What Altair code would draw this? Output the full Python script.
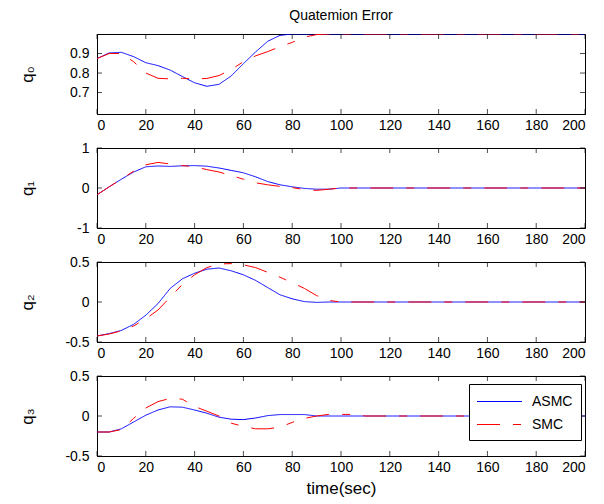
import altair as alt
import pandas as pd

T = [0, 5, 10, 15, 20, 25, 30, 35, 40, 45, 50, 55, 60, 65, 70, 75, 80, 85, 90, 95, 100, 105, 110, 200]

q0_asmc = [0.874, 0.903, 0.906, 0.884, 0.853, 0.838, 0.815, 0.782, 0.750, 0.732, 0.742, 0.785, 0.848, 0.908, 0.963, 0.993, 1.0, 1.0, 1.0, 1.0, 1.0, 1.0, 1.0, 1.0]
q0_smc = [0.874, 0.900, 0.900, 0.858, 0.800, 0.773, 0.770, 0.773, 0.770, 0.772, 0.787, 0.818, 0.858, 0.888, 0.910, 0.935, 0.957, 0.984, 0.997, 1.0, 1.0, 1.0, 1.0, 1.0]
q1_asmc = [-0.17, 0.03, 0.22, 0.40, 0.53, 0.55, 0.54, 0.555, 0.56, 0.545, 0.50, 0.44, 0.38, 0.28, 0.16, 0.08, 0.03, -0.01, -0.03, -0.03, 0.0, 0.0, 0.0, 0.0]
q1_smc = [-0.17, 0.03, 0.22, 0.42, 0.58, 0.64, 0.60, 0.56, 0.53, 0.46, 0.40, 0.31, 0.22, 0.13, 0.08, 0.04, 0.01, -0.04, -0.06, -0.03, 0.0, 0.0, 0.0, 0.0]
q2_asmc = [-0.425, -0.395, -0.355, -0.28, -0.165, -0.02, 0.17, 0.29, 0.36, 0.41, 0.425, 0.39, 0.34, 0.27, 0.18, 0.09, 0.04, 0.005, -0.005, 0.0, 0.0, 0.0, 0.0, 0.0]
q2_smc = [-0.425, -0.40, -0.36, -0.30, -0.21, -0.10, 0.06, 0.22, 0.34, 0.43, 0.475, 0.48, 0.465, 0.43, 0.37, 0.31, 0.24, 0.17, 0.08, 0.02, 0.0, 0.0, 0.0, 0.0]
q3_asmc = [-0.20, -0.20, -0.16, -0.075, 0.01, 0.075, 0.115, 0.11, 0.075, 0.035, -0.015, -0.04, -0.045, -0.025, 0.005, 0.018, 0.018, 0.018, 0.0, 0.0, 0.0, 0.0, 0.0, 0.0]
q3_smc = [-0.20, -0.20, -0.17, -0.03, 0.10, 0.18, 0.22, 0.21, 0.12, 0.06, 0.0, -0.09, -0.13, -0.16, -0.16, -0.14, -0.08, -0.03, 0.0, 0.02, 0.02, 0.02, 0.0, 0.0]

methods = ["ASMC", "SMC"]
colors = ["#0000ff", "#ff0000"]
dashes = [[1, 0], [23, 13, 8, 13]]
x_ticks = [0, 20, 40, 60, 80, 100, 120, 140, 160, 180, 200]

W, H = 488, 80
FONT = "Liberation Sans"
LABEL_EXPR = "replace(format(datum.value, '~g'), '\u2212', '-')"


def panel(qa, qs, ylabel, ydomain, yticks, last=False, title=None):
    n = len(T)
    df = pd.DataFrame({"t": T + T, "q": qa + qs, "method": ["ASMC"] * n + ["SMC"] * n})
    x_enc = alt.X("t:Q", scale=alt.Scale(domain=[0, 200], nice=False),
                  axis=alt.Axis(values=x_ticks, title="time(sec)" if last else None,
                                titlePadding=6))
    y_enc = alt.Y("q:Q", scale=alt.Scale(domain=ydomain, nice=False, zero=False),
                  axis=alt.Axis(values=yticks, title=ylabel, titleX=-61, titleY=H / 2,
                                titleAngle=270, titleBaseline="bottom", titleAlign="center",
                                labelPadding=8, labelExpr=LABEL_EXPR))
    legend = alt.Legend(orient="none", legendX=372, legendY=8, title=None,
                        symbolType="M-2.5,0H2.5", symbolSize=324, symbolStrokeWidth=1,
                        symbolOffset=13, labelOffset=23,
                        labelFontSize=14, labelFont=FONT, padding=8, rowPadding=6,
                        strokeColor="black", fillColor="white") if last else None
    lines = alt.Chart(df).mark_line(strokeWidth=1, clip=True).encode(
        x=x_enc, y=y_enc,
        color=alt.Color("method:N", scale=alt.Scale(domain=methods, range=colors), legend=legend),
        strokeDash=alt.StrokeDash("method:N", scale=alt.Scale(domain=methods, range=dashes), legend=legend),
    )
    xt = pd.DataFrame({"t": x_ticks})
    yt = pd.DataFrame({"q": yticks})
    tick = dict(color="black", thickness=1, size=5)
    t_bot = alt.Chart(xt).mark_tick(orient="vertical", **tick).encode(x=x_enc, y=alt.value(H - 2.5))
    t_top = alt.Chart(xt).mark_tick(orient="vertical", **tick).encode(x=x_enc, y=alt.value(2.5))
    t_left = alt.Chart(yt).mark_tick(orient="horizontal", **tick).encode(y=y_enc, x=alt.value(2.5))
    t_right = alt.Chart(yt).mark_tick(orient="horizontal", **tick).encode(y=y_enc, x=alt.value(W - 2.5))
    props = dict(width=W, height=H)
    if title:
        props["title"] = alt.TitleParams(title, fontSize=14, fontWeight="normal", font=FONT,
                                         anchor="middle", offset=11, color="black")
    return alt.layer(lines, t_bot, t_top, t_left, t_right).properties(**props)


p0 = panel(q0_asmc, q0_smc, "q₀", [0.59, 1.0], [0.7, 0.8, 0.9], title="Quatemion Error")
p1 = panel(q1_asmc, q1_smc, "q₁", [-1, 1], [-1, 0, 1])
p2 = panel(q2_asmc, q2_smc, "q₂", [-0.5, 0.5], [-0.5, 0, 0.5])
p3 = panel(q3_asmc, q3_smc, "q₃", [-0.5, 0.5], [-0.5, 0, 0.5], last=True)

chart = alt.vconcat(p0, p1, p2, p3, spacing=34, bounds="flush").resolve_legend(
    color="independent", strokeDash="independent"
).configure_view(stroke="black", strokeWidth=1).configure_axis(
    grid=False, ticks=False, domainColor="black", labelColor="black", titleColor="black",
    labelFont=FONT, titleFont=FONT, labelFontSize=14, titleFontSize=17,
    titleFontWeight="normal", labelPadding=4,
).properties(padding={"left": 9, "top": 0, "right": 5, "bottom": 5}, background="white")

chart.save("out.html", embed_options={"renderer": "svg", "actions": False})
